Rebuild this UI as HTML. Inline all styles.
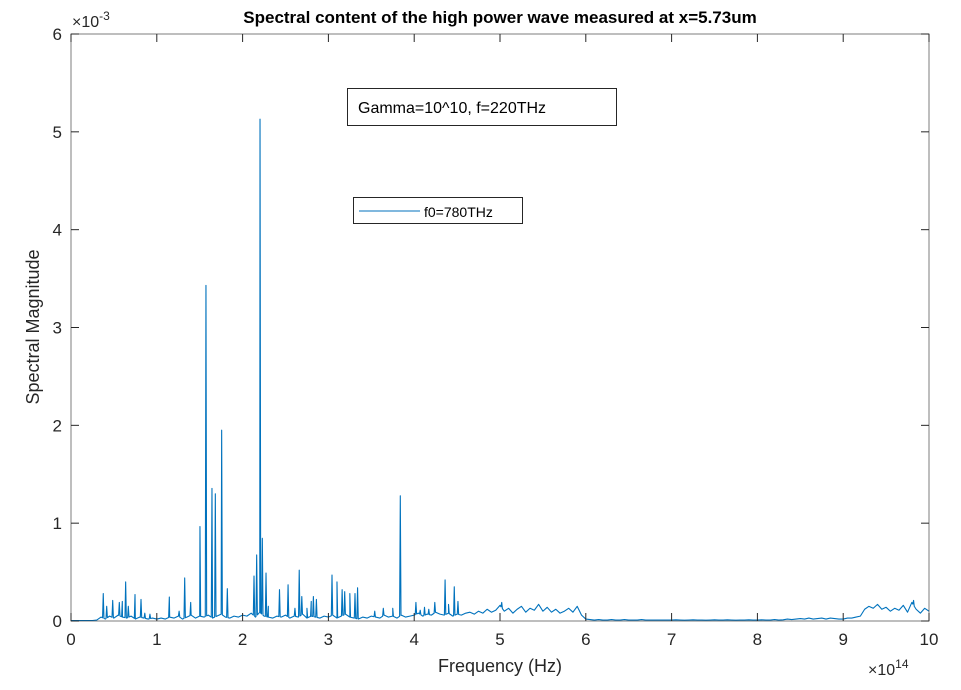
<!DOCTYPE html>
<html><head><meta charset="utf-8">
<style>
html,body{margin:0;padding:0;background:#fff;}
svg{display:block;font-family:"Liberation Sans",Arial,sans-serif;}
</style></head>
<body>
<svg id="chart" width="961" height="690" viewBox="0 0 961 690">
  <rect x="0" y="0" width="961" height="690" fill="#fff"/>
  <rect x="71" y="34" width="858" height="587" fill="#fff"/>
  <g id="grid"></g>
  <g id="series"></g>
  <rect x="71" y="34" width="858" height="587" fill="none" stroke="#262626" stroke-opacity="0.6" stroke-width="1"/>
  <g id="xticks"></g>
  <g id="yticks"></g>
  <text x="500" y="23" text-anchor="middle" font-size="17" font-weight="bold" fill="#000">Spectral content of the high power wave measured at x=5.73um</text>
  <text x="72" y="27" font-size="16" fill="#262626">×10<tspan dy="-7" font-size="12">-3</tspan></text>
  <text x="868" y="675" font-size="16" fill="#262626">×10<tspan dy="-7" font-size="12">14</tspan></text>
  <text x="500" y="672" text-anchor="middle" font-size="18" fill="#262626">Frequency (Hz)</text>
  <text transform="translate(39,327) rotate(-90)" text-anchor="middle" font-size="18" fill="#262626">Spectral Magnitude</text>
  <g>
    <rect x="347.5" y="88.5" width="269" height="37" fill="#fff" stroke="#262626" stroke-width="1"/>
    <text x="358" y="113" font-size="16" fill="#000">Gamma=10^10, f=220THz</text>
  </g>
  <g>
    <rect x="353.5" y="197.5" width="169" height="26" fill="#fff" stroke="#262626" stroke-width="1"/>
    <line x1="359" y1="211" x2="420" y2="211" stroke="#0072BD" stroke-width="1"/>
    <text x="424" y="217" font-size="14" fill="#000">f0=780THz</text>
  </g>
</svg>
<script>
const xTicks = [0,1,2,3,4,5,6,7,8,9,10];
const yTicks = [0,1,2,3,4,5,6];
// background spectrum sampled every 0.05 (x1e14 Hz), magnitude x1e-3
const baseStep = 0.05;
const baseMag = [
0.005,0.005,0.005,0.005,0.005,0.005,0.01,0.04,0.02,0.05,0.03,0.06,0.04,0.03,0.05,0.02,0.04,0.03,0.02,0.03,
0.02,0.03,0.02,0.04,0.03,0.05,0.02,0.04,0.06,0.03,0.05,0.04,0.06,0.03,0.05,0.07,0.04,0.03,0.05,0.04,
0.06,0.05,0.08,0.04,0.09,0.05,0.04,0.03,0.05,0.04,0.06,0.03,0.05,0.04,0.07,0.03,0.05,0.04,0.03,0.05,
0.04,0.06,0.03,0.05,0.07,0.04,0.03,0.02,0.04,0.03,0.05,0.04,0.03,0.06,0.04,0.05,0.03,0.06,0.04,0.05,
0.06,0.08,0.05,0.07,0.06,0.09,0.07,0.06,0.08,0.05,0.07,0.06,0.08,0.09,0.07,0.10,0.08,0.12,0.09,0.11,
0.16,0.10,0.13,0.08,0.12,0.15,0.09,0.13,0.11,0.17,0.10,0.14,0.09,0.12,0.08,0.10,0.13,0.09,0.15,0.06,
0.02,0.015,0.01,0.015,0.01,0.01,0.015,0.01,0.01,0.015,0.01,0.01,0.01,0.015,0.01,0.01,0.01,0.01,0.01,0.01,
0.01,0.012,0.01,0.008,0.01,0.012,0.01,0.01,0.008,0.01,0.012,0.01,0.01,0.012,0.01,0.008,0.01,0.01,0.012,0.01,
0.01,0.012,0.01,0.01,0.015,0.01,0.012,0.02,0.015,0.02,0.025,0.02,0.03,0.02,0.025,0.03,0.02,0.03,0.025,0.02,
0.02,0.03,0.03,0.04,0.05,0.12,0.15,0.13,0.17,0.12,0.14,0.10,0.13,0.11,0.16,0.09,0.19,0.12,0.08,0.13,
0.10
];
const spikeFreq = [0.376,0.416,0.486,0.563,0.598,0.637,0.668,0.746,0.816,0.86,0.92,1.146,1.26,1.325,1.395,1.503,1.573,1.643,1.682,1.756,1.822,
2.133,2.164,2.203,2.23,2.273,2.30,2.43,2.53,2.61,2.66,2.69,2.75,2.80,2.825,2.86,3.042,3.10,3.16,3.19,3.25,3.31,3.34,3.54,3.64,3.75,3.838,
4.02,4.07,4.12,4.17,4.24,4.36,4.40,4.467,4.51,5.02,5.45,9.82];
const spikeMag = [0.28,0.15,0.21,0.19,0.20,0.40,0.15,0.27,0.22,0.08,0.07,0.245,0.10,0.44,0.19,0.965,3.43,1.355,1.30,1.95,0.33,
0.46,0.675,5.13,0.845,0.49,0.15,0.32,0.37,0.13,0.52,0.25,0.13,0.20,0.25,0.22,0.47,0.40,0.32,0.30,0.28,0.28,0.34,0.10,0.13,0.13,1.28,
0.19,0.11,0.14,0.12,0.19,0.42,0.17,0.35,0.20,0.19,0.17,0.21];

const X0=71, X1=929, Y0=621, Y1=34;
const xs = f => X0 + (f-0)/(10-0)*(X1-X0);
const ys = m => Y0 - (m-0)/(6-0)*(Y0-Y1);
const NS="http://www.w3.org/2000/svg";
function baseAt(f){const i=Math.min(Math.floor(f/baseStep),baseMag.length-2);const t=f/baseStep-i;return baseMag[i]*(1-t)+baseMag[i+1]*t;}

const pts=[];
baseMag.forEach((m,i)=>pts.push([i*baseStep,m]));
spikeFreq.forEach((f,i)=>{pts.push([f-0.008,baseAt(f-0.008)]);pts.push([f,spikeMag[i]]);pts.push([f+0.008,baseAt(f+0.008)]);});
pts.sort((a,b)=>a[0]-b[0]);
const line=document.createElementNS(NS,'polyline');
line.setAttribute('points',pts.map(p=>xs(p[0]).toFixed(2)+','+ys(p[1]).toFixed(2)).join(' '));
line.setAttribute('fill','none');line.setAttribute('stroke','#0072BD');line.setAttribute('stroke-width','1.1');
line.setAttribute('stroke-linejoin','round');


document.getElementById('series').appendChild(line);

const gx=document.getElementById('xticks');
xTicks.forEach(v=>{
  const x=xs(v);
  const t1=document.createElementNS(NS,'line');
  t1.setAttribute('x1',x);t1.setAttribute('x2',x);t1.setAttribute('y1',Y0);t1.setAttribute('y2',Y0-8);t1.setAttribute('stroke','#262626');
  
  
  gx.appendChild(t1);
  const t2=document.createElementNS(NS,'line');
  t2.setAttribute('x1',x);t2.setAttribute('x2',x);t2.setAttribute('y1',Y1);t2.setAttribute('y2',Y1+8);t2.setAttribute('stroke','#262626');
  
  
  gx.appendChild(t2);
  const tx=document.createElementNS(NS,'text');
  tx.setAttribute('x',x);tx.setAttribute('y',645);tx.setAttribute('text-anchor','middle');tx.setAttribute('font-size','17');tx.setAttribute('fill','#262626');
  tx.textContent=v;
  
  
  gx.appendChild(tx);
});
const gy=document.getElementById('yticks');
yTicks.forEach(v=>{
  const y=ys(v);
  const t1=document.createElementNS(NS,'line');
  t1.setAttribute('x1',X0);t1.setAttribute('x2',X0+8);t1.setAttribute('y1',y);t1.setAttribute('y2',y);t1.setAttribute('stroke','#262626');
  
  
  gy.appendChild(t1);
  const t2=document.createElementNS(NS,'line');
  t2.setAttribute('x1',X1);t2.setAttribute('x2',X1-8);t2.setAttribute('y1',y);t2.setAttribute('y2',y);t2.setAttribute('stroke','#262626');
  
  
  gy.appendChild(t2);
  const tx=document.createElementNS(NS,'text');
  tx.setAttribute('x',62);tx.setAttribute('y',y+6);tx.setAttribute('text-anchor','end');tx.setAttribute('font-size','17');tx.setAttribute('fill','#262626');
  tx.textContent=v;
  
  
  gy.appendChild(tx);
});
</script>
</body></html>
